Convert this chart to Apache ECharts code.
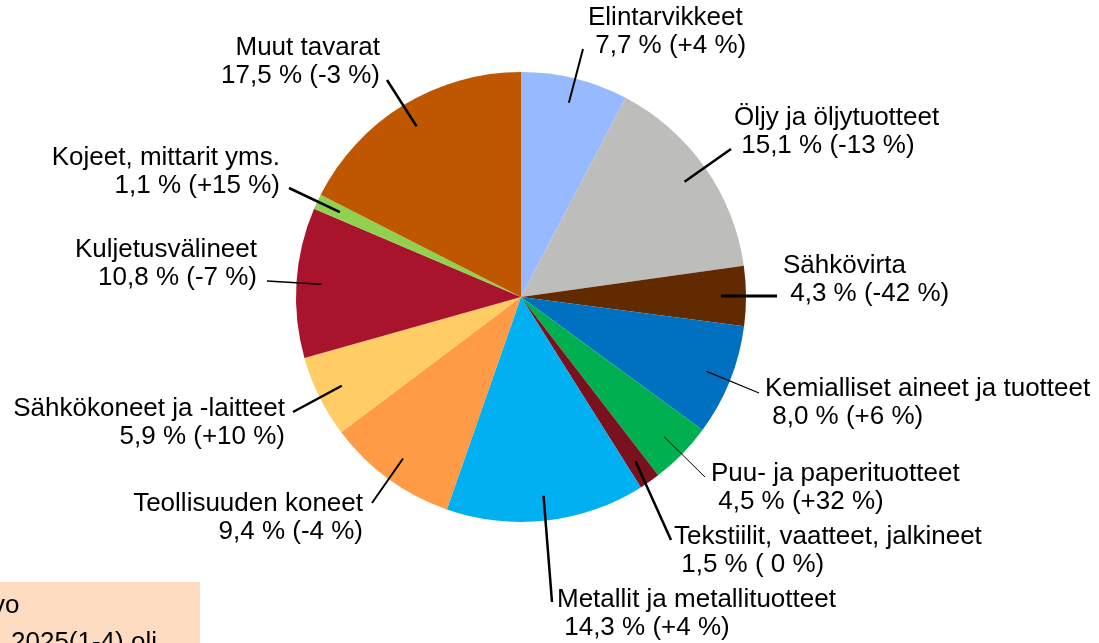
<!DOCTYPE html>
<html>
<head>
<meta charset="utf-8">
<script src="https://cdn.jsdelivr.net/npm/echarts@6/dist/echarts.min.js"></script>
<style>
  html, body { margin: 0; padding: 0; background: #fff; }
  #main { width: 1099px; height: 643px; }
</style>
</head>
<body>
<div id="main"></div>
<script>
// tuonnin rakenne, osuus % ja muutos %
const categories = [
  'Elintarvikkeet', 'Öljy ja öljytuotteet', 'Sähkövirta', 'Kemialliset aineet ja tuotteet',
  'Puu- ja paperituotteet', 'Tekstiilit, vaatteet, jalkineet', 'Metallit ja metallituotteet',
  'Teollisuuden koneet', 'Sähkökoneet ja -laitteet', 'Kuljetusvälineet',
  'Kojeet, mittarit yms.', 'Muut tavarat'
]
const shares = [7.7, 15.1, 4.3, 8.0, 4.5, 1.5, 14.3, 9.4, 5.9, 10.8, 1.1, 17.5]
const changes = [4, -13, -42, 6, 32, 0, 4, -4, 10, -7, 15, -3]
const colors = [
  '#97B9FF', '#BDBEBC', '#622A00', '#0070C0', '#00B050', '#7A111F',
  '#00B0F0', '#FF9A46', '#FFCC66', '#A8142C', '#92D050', '#BF5700'
]

// label placement: [x, y, align, lineEndX, lineEndY, lineWidth]
const labelPos = [
  [588, 32, 'left', 583, 49, 2],
  [734, 132, 'left', 731, 149, 2.5],
  [783, 280, 'left', 777, 296, 3],
  [765, 403, 'left', 759, 393, 1.2],
  [711, 488, 'left', 705, 477, 1],
  [674, 551, 'left', 671, 540, 2.5],
  [557, 614, 'left', 552, 602, 2.5],
  [363, 518, 'right', 372, 503, 2],
  [285, 423, 'right', 293, 412, 2.5],
  [257, 264, 'right', 267, 281, 1.5],
  [280, 172, 'right', 289, 188, 2.5],
  [380, 62, 'right', 387, 80, 2.5]
]

function fmt(v) {
  return v.toFixed(1).replace('.', ',')
}
function fmtChange(v) {
  if (v > 0) return '+' + v
  if (v < 0) return '' + v
  return ' 0'
}

const chartDom = document.getElementById('main')
const myChart = echarts.init(chartDom)

const pieData = categories.map((name, i) => ({
  name: name,
  value: shares[i],
  itemStyle: { color: colors[i] }
}))

const labelData = categories.map((name, i) => ({
  name: name,
  value: shares[i],
  labelLine: { lineStyle: { width: labelPos[i][5] } }
}))

const FONT = '"Liberation Sans", Arial, sans-serif'

var option = {
  animation: false,
  backgroundColor: '#fff',
  series: [
    {
      type: 'pie',
      center: [521, 297],
      radius: 225,
      startAngle: 90,
      clockwise: true,
      silent: true,
      label: { show: false },
      labelLine: { show: false },
      itemStyle: { borderWidth: 0 },
      emphasis: { disabled: true },
      data: pieData
    },
    {
      // transparent helper pie, just carries labels + leader lines
      type: 'pie',
      center: [521, 297],
      radius: 200,
      startAngle: 90,
      clockwise: true,
      silent: true,
      avoidLabelOverlap: false,
      z: 3,
      itemStyle: { color: 'rgba(0,0,0,0)', borderWidth: 0 },
      emphasis: { disabled: true },
      label: {
        show: true,
        position: 'outside',
        width: 420,
        overflow: 'none',
        color: '#000',
        fontFamily: FONT,
        fontSize: 26,
        lineHeight: 27.5,
        formatter: function (p) {
          const i = p.dataIndex
          const pre = labelPos[i][2] === 'left' ? ' ' : ''
          return categories[i] + '\n' + pre + fmt(shares[i]) + ' % (' + fmtChange(changes[i]) + ' %)'
        }
      },
      labelLine: {
        show: true,
        length: 0,
        length2: 0,
        smooth: false,
        lineStyle: { color: '#000', width: 2 }
      },
      labelLayout: function (params) {
        const lp = labelPos[params.dataIndex]
        const start = params.labelLinePoints ? params.labelLinePoints[0] : [lp[3], lp[4]]
        return {
          x: lp[0],
          y: lp[1],
          align: lp[2],
          verticalAlign: 'middle',
          labelLinePoints: [start, [lp[3], lp[4]], [lp[3], lp[4]]]
        }
      },
      data: labelData
    }
  ],
  graphic: [
    {
      type: 'rect',
      left: 0,
      top: 582,
      shape: { width: 200, height: 70 },
      style: { fill: '#FDDCC1' },
      silent: true
    },
    {
      type: 'text',
      x: -8,
      y: 606,
      style: { text: 'vo', font: '26px ' + FONT, fill: '#000', verticalAlign: 'middle' },
      silent: true
    },
    {
      type: 'text',
      x: 11,
      y: 643,
      style: { text: '2025(1-4) oli', font: '26px ' + FONT, fill: '#000', verticalAlign: 'middle' },
      silent: true
    }
  ]
}
option && myChart.setOption(option)
</script>
</body>
</html>
